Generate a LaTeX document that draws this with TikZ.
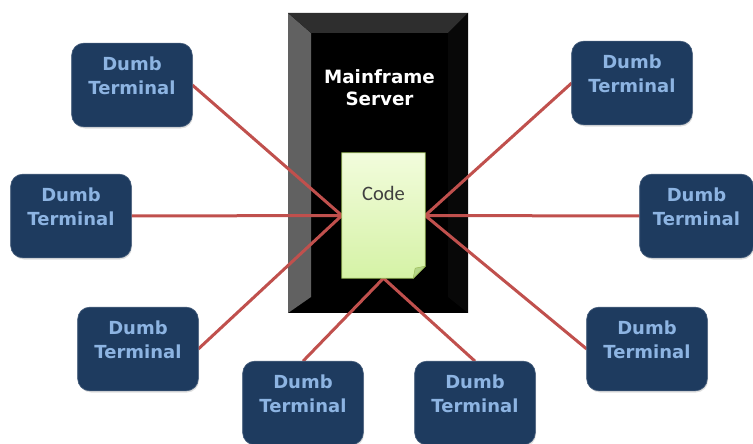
\documentclass[tikz,border=0pt]{standalone}
\usepackage{fontspec}
\newfontfamily\dvsans{DejaVu Sans}
\newfontfamily\carlitofont{Carlito}
\usetikzlibrary{shadows}

\definecolor{termfill}{HTML}{1E3B5F}
\definecolor{termtext}{HTML}{8DB4E2}
\definecolor{linkred}{HTML}{C0504D}
\definecolor{notetop}{HTML}{F2FCDC}
\definecolor{notebot}{HTML}{D5F2A6}
\definecolor{noteedge}{HTML}{9BBB59}
\definecolor{notefold}{HTML}{B3D486}

\tikzset{
  term/.style={rounded corners=12pt, fill=termfill, draw=termfill!80!white,
    line width=0.6pt, minimum width=120pt, minimum height=83pt, inner sep=0pt,
    drop shadow={opacity=0.25, shadow xshift=1pt, shadow yshift=-2pt}},
  termlabel/.style={text=termtext, font=\dvsans\bfseries\fontsize{18}{23.5}\selectfont,
    align=center, inner sep=0pt},
  link/.style={draw=linkred, line width=3pt},
  codebox/.style={minimum width=83pt, minimum height=125pt, inner sep=0pt}
}

\begin{document}
\begin{tikzpicture}[x=1pt, y=-1pt]
\useasboundingbox (0,0) rectangle (753,444);

% mainframe cabinet with bevelled border
\fill[black] (288,13) rectangle (468,313);
\fill[black!62] (288,13) -- (311,33) -- (311,297) -- (288,313) -- cycle;
\fill[black!82] (288,13) -- (468,13) -- (448,33) -- (311,33) -- cycle;
\fill[black!97] (468,13) -- (468,313) -- (448,297) -- (448,33) -- cycle;
\node[coordinate] (mf) at (379.5,88) {};
\node[text=white, font=\dvsans\bfseries\fontsize{18.3}{22}\selectfont, align=center]
  (mftext) at (mf) {Mainframe\\Server};

% placement of the code sheet and terminals
\node[codebox] (code) at (383.5,215.5) {};
\node[term] (t1) at (132,85) {};
\node[term] (t2) at (71,216) {};
\node[term] (t3) at (138,349) {};
\node[term] (t4) at (303,403) {};
\node[term] (t5) at (475,403) {};
\node[term] (t6) at (632,83) {};
\node[term, minimum width=113pt] (t7) at (696.5,216) {};
\node[term] (t8) at (647,349) {};

% links from each terminal to the code
\draw[link] (t1.east) -- (code.west);
\draw[link] (t2.east) -- (code.west);
\draw[link] (t3.east) -- (code.west);
\draw[link] (t4.north) -- (code.south);
\draw[link] (t5.north) -- (code.south);
\draw[link] (t6.west) -- (code.east);
\draw[link] (t7.west) -- (code.east);
\draw[link] (t8.west) -- (code.east);

% redraw terminals above the links
\foreach \t in {t1,t2,t3,t4,t5,t6,t7,t8}{
  \path[fill=termfill, draw=termfill!80!white, line width=0.6pt, rounded corners=12pt]
    (\t.south west) rectangle (\t.north east);
  \node[termlabel] at ([yshift=9pt]\t.center) {Dumb\\Terminal};
}

% code sheet with folded corner
\shade[top color=notetop, bottom color=notebot, draw=noteedge, line width=0.8pt]
  (code.north west) -- (code.north east) -- ([yshift=12pt]code.south east)
  -- ([xshift=-12pt]code.south east) -- (code.south west) -- cycle;
\fill[notefold, draw=noteedge, line width=0.5pt]
  ([yshift=12pt]code.south east) -- ([xshift=-12pt]code.south east)
  -- ([xshift=-10pt, yshift=10pt]code.south east) -- cycle;
\node[text=black!75, font=\carlitofont\fontsize{20.5}{24}\selectfont, inner sep=0pt]
  (codetext) at ([yshift=22pt]code.center) {Code};

\end{tikzpicture}
\end{document}
